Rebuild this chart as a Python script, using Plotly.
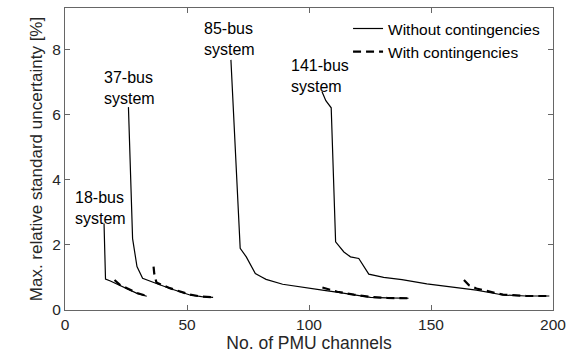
import plotly.graph_objects as go

# ---- data ----
x18_solid = [16.0, 16.6, 18.6, 20.6, 22.5, 25.4, 29.5, 33.5]
y18_solid = [2.65, 0.95, 0.89, 0.82, 0.76, 0.66, 0.51, 0.42]
x18_dash = [20.3, 21.6, 22.5, 25.4, 29.5, 33.5]
y18_dash = [0.92, 0.83, 0.77, 0.67, 0.52, 0.43]

x37_solid = [26.0, 27.7, 29.5, 31.8, 37.2, 43.0, 51.2, 56.0, 60.7]
y37_solid = [6.22, 2.19, 1.33, 0.97, 0.82, 0.66, 0.46, 0.41, 0.39]
x37_dash = [36.3, 36.6, 37.5, 43.0, 51.2, 56.0, 60.7]
y37_dash = [1.33, 1.10, 0.84, 0.67, 0.47, 0.41, 0.39]

x85_solid = [68.0, 71.8, 74.3, 78.0, 80.4, 82.4, 89.2, 97.4, 105.5, 112.0, 118.4, 125.2, 132.0, 140.8]
y85_solid = [7.67, 1.89, 1.63, 1.12, 1.02, 0.94, 0.79, 0.69, 0.61, 0.54, 0.46, 0.39, 0.37, 0.36]
x85_dash = [105.5, 111.6, 118.4, 125.2, 132.0, 140.8]
y85_dash = [0.69, 0.56, 0.47, 0.40, 0.37, 0.36]

x141_solid = [105.3, 106.9, 109.1, 110.9, 114.3, 117.0, 120.4, 122.5, 124.5, 130.6, 138.1,
              148.3, 160.5, 168.6, 179.5, 189.0, 198.5]
y141_solid = [6.70, 6.42, 6.20, 2.09, 1.78, 1.63, 1.58, 1.32, 1.10, 1.00, 0.93,
              0.80, 0.69, 0.61, 0.46, 0.43, 0.43]
x141_dash = [163.5, 165.6, 168.6, 172.0, 179.5, 189.0, 198.5]
y141_dash = [0.92, 0.76, 0.66, 0.60, 0.47, 0.43, 0.43]

label_text = ["18-bus<br>system", "37-bus<br>system", "85-bus<br>system", "141-bus<br>system"]
label_x = [3.2, 15.0, 56.3, 91.7]
label_y = [3.78, 7.45, 8.95, 7.83]

x_ticks = [0, 50, 100, 150, 200]
y_ticks = [0, 2, 4, 6, 8]

FONT = "Liberation Sans, Arial, Helvetica, sans-serif"

fig = go.Figure()

solid = [(x18_solid, y18_solid), (x37_solid, y37_solid), (x85_solid, y85_solid), (x141_solid, y141_solid)]
dashed = [(x18_dash, y18_dash), (x37_dash, y37_dash), (x85_dash, y85_dash), (x141_dash, y141_dash)]

for i, (xs, ys) in enumerate(solid):
    fig.add_trace(go.Scatter(x=xs, y=ys, mode="lines",
                             line=dict(color="black", width=1.2),
                             name="Without contingencies", showlegend=(i == 0),
                             legendrank=1))
for i, (xs, ys) in enumerate(dashed):
    fig.add_trace(go.Scatter(x=xs, y=ys, mode="lines",
                             line=dict(color="black", width=2.2, dash="8px,5px"),
                             name="With contingencies", showlegend=(i == 0),
                             legendrank=2))

for t, ax, ay in zip(label_text, label_x, label_y):
    fig.add_annotation(x=ax, y=ay, xref="x", yref="y", text=t, showarrow=False,
                       xanchor="left", yanchor="top", align="left",
                       font=dict(family=FONT, size=16, color="black"))

axis_common = dict(showgrid=False, zeroline=False, showline=True, linecolor="#666666",
                   linewidth=1, mirror="ticks", ticks="inside", ticklen=5,
                   tickcolor="#666666", tickfont=dict(family=FONT, size=15.5, color="#262626"))

fig.update_xaxes(range=[0, 200], tickvals=x_ticks, ticktext=[str(v) for v in x_ticks],
                 title=dict(text="No. of PMU channels", font=dict(family=FONT, size=17.5, color="#262626"),
                            standoff=3),
                 **axis_common)
fig.update_yaxes(range=[0, 9.26], tickvals=y_ticks, ticktext=[str(v) for v in y_ticks],
                 title=dict(text="Max. relative standard uncertainty [%]",
                            font=dict(family=FONT, size=17, color="#262626"), standoff=5),
                 **axis_common)

fig.update_layout(
    width=573, height=363,
    margin=dict(l=65, r=15, t=7, b=53),
    plot_bgcolor="white", paper_bgcolor="white",
    legend=dict(x=0.58, y=0.987, xanchor="left", yanchor="top",
                bgcolor="rgba(0,0,0,0)", font=dict(family=FONT, size=15.5, color="black"),
                tracegroupgap=0, itemwidth=30),
)

fig.write_html("out.html")
